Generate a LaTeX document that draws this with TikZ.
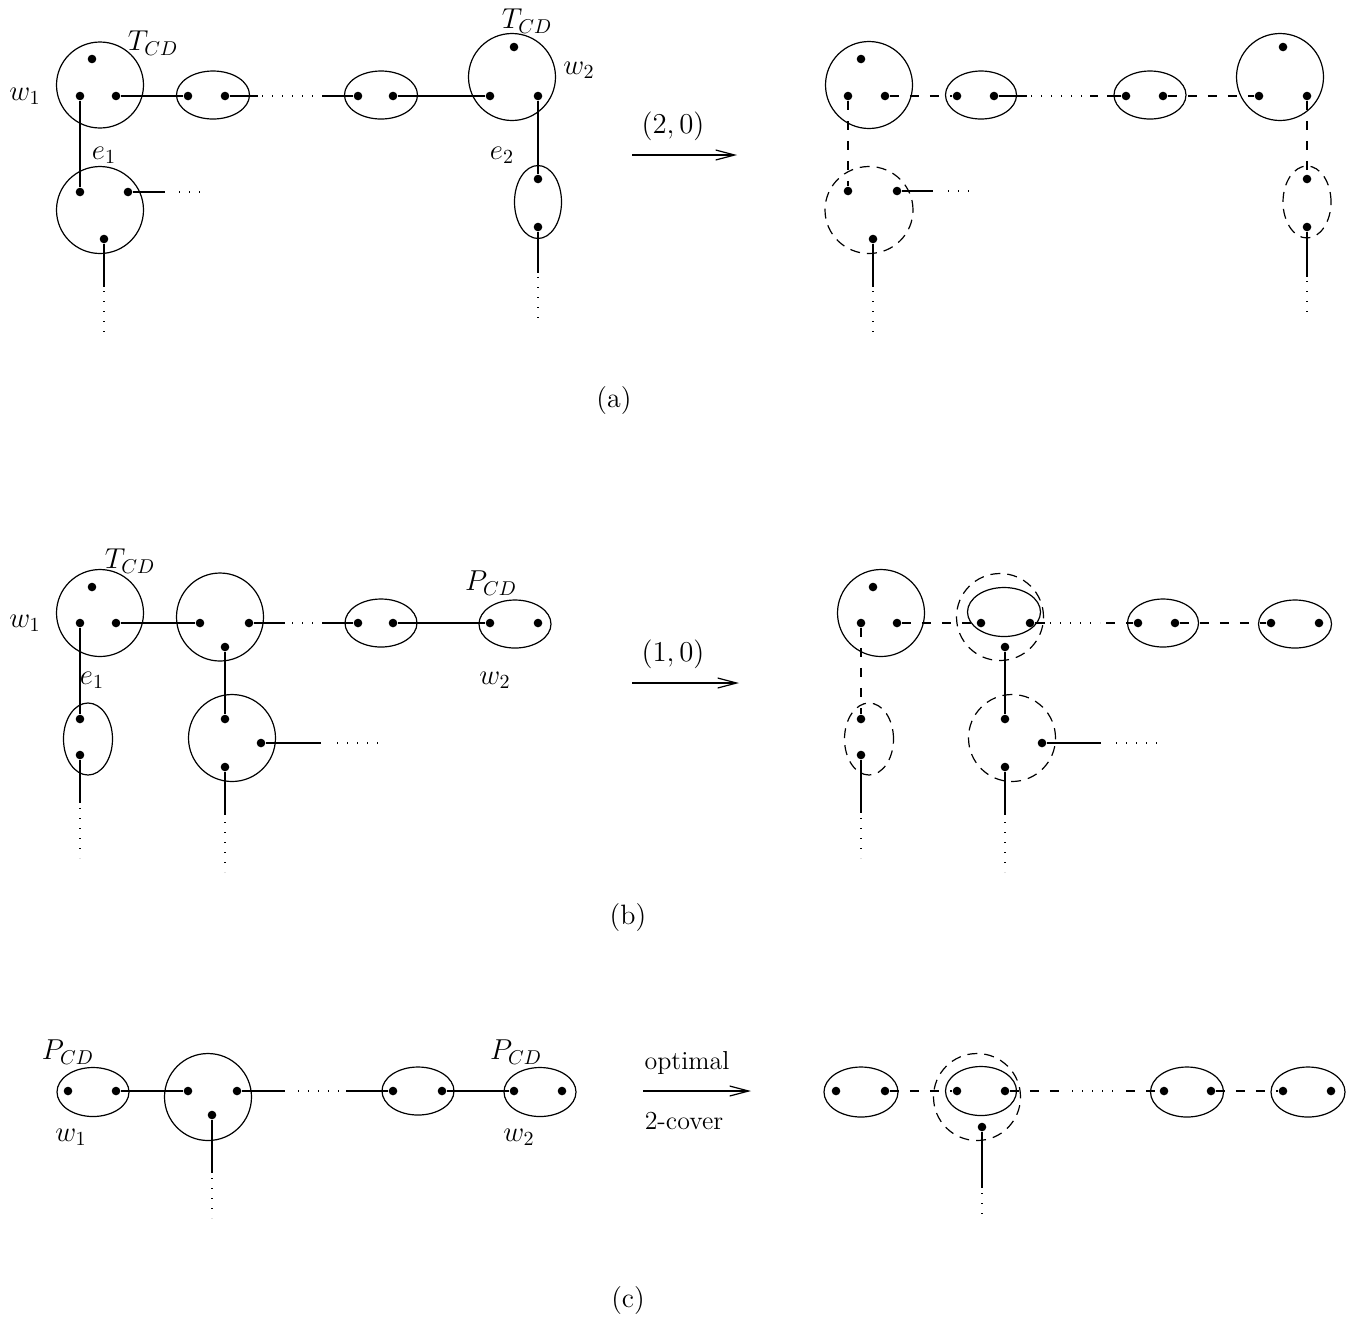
\documentclass[tikz,border=0pt]{standalone}
\usetikzlibrary{shapes.geometric,arrows.meta}
\begin{document}
\begin{tikzpicture}[x=0.5pt,y=-0.5pt,line width=0.6pt,
  dot/.style={circle,fill,inner sep=0pt,minimum size=4.3pt},
  blob/.style={draw,ellipse,inner sep=0pt},
  dblob/.style={blob,dash pattern=on 5pt off 3.5pt},
  dsh/.style={dash pattern=on 4.5pt off 5.5pt},
  dts/.style={dash pattern=on 0.7pt off 4.3pt},
  lbl/.style={font=\fontsize{14.4}{17}\selectfont,inner sep=0pt},
  captxt/.style={font=\fontsize{14}{17}\selectfont,inner sep=0pt},
  txt/.style={font=\fontsize{13}{15}\selectfont,inner sep=0pt},
  arr/.style={-{Straight Barb[length=9.5pt,width=5pt,line width=0.6pt]}}]
\useasboundingbox (0,0) rectangle (1348,1319);

% ================= (a) left =================
\node[blob,minimum width=43.5pt,minimum height=43pt] (A1) at (100,85) {};
\node[blob,minimum width=36.5pt,minimum height=24pt] (A2) at (213,95) {};
\node[blob,minimum width=36.5pt,minimum height=24pt] (A3) at (381,95) {};
\node[blob,minimum width=43.5pt,minimum height=43.5pt] (A4) at (512,77) {};
\node[blob,minimum width=43.5pt,minimum height=43.5pt] (A5) at (100,210) {};
\node[blob,minimum width=23.5pt,minimum height=36.5pt] (A6) at (538,202) {};
\node[dot] (a1t) at (92,59) {};
\node[dot] (a1l) at (80,96) {};
\node[dot] (a1r) at (116,96) {};
\node[dot] (a2l) at (188,96) {};
\node[dot] (a2r) at (225,96) {};
\node[dot] (a3l) at (358,96) {};
\node[dot] (a3r) at (393,96) {};
\node[dot] (a4t) at (514,47) {};
\node[dot] (a4l) at (490,96) {};
\node[dot] (a4r) at (538,96) {};
\node[dot] (a5l) at (80,192) {};
\node[dot] (a5r) at (128,192) {};
\node[dot] (a5b) at (104,239) {};
\node[dot] (a6t) at (538,179) {};
\node[dot] (a6b) at (538,227) {};
\coordinate (ka1) at (258,96); \coordinate (ka2) at (262,96);
\coordinate (ka3) at (318,96); \coordinate (ka4) at (322,96);
\coordinate (ka5) at (165,192); \coordinate (ka6) at (179,192); \coordinate (ka7) at (202,192);
\coordinate (ka8) at (104,287); \coordinate (ka9) at (104,291); \coordinate (ka10) at (104,332);
\coordinate (ka11) at (538,273); \coordinate (ka12) at (538,277); \coordinate (ka13) at (538,318);
\draw (a1r) -- (a2l);
\draw (a2r) -- (ka1);
\draw[dts] (ka2) -- (ka3);
\draw (ka4) -- (a3l);
\draw (a3r) -- (a4l);
\draw (a1l) -- (a5l);
\draw (a5r) -- (ka5);
\draw[dts] (ka6) -- (ka7);
\draw (a5b) -- (ka8);
\draw[dts] (ka9) -- (ka10);
\draw (a4r) -- (a6t);
\draw (a6b) -- (ka11);
\draw[dts] (ka12) -- (ka13);
\node[lbl] (la1) at (153,43) {$T_{CD}$};
\node[lbl] (la2) at (527,21) {$T_{CD}$};
\node[lbl] (la3) at (25,96) {$w_1$};
\node[lbl] (la4) at (579,70) {$w_2$};
\node[lbl] (la5) at (104,155) {$e_1$};
\node[lbl] (la6) at (502,155) {$e_2$};

% arrow (a)
\coordinate (arA1) at (632,155); \coordinate (arA2) at (737,155);
\draw[arr] (arA1) -- (arA2);
\node[captxt] (la7) at (673,126) {$(2,0)$};

% ================= (a) right =================
\node[blob,minimum width=43.5pt,minimum height=43.5pt] (R1) at (869,85) {};
\node[blob,minimum width=35.5pt,minimum height=24pt] (R2) at (981,95) {};
\node[blob,minimum width=36pt,minimum height=24pt] (R3) at (1150,95) {};
\node[blob,minimum width=43.5pt,minimum height=43.5pt] (R4) at (1280,77) {};
\node[dblob,minimum width=44pt,minimum height=43.5pt] (R5) at (869,210) {};
\node[dblob,minimum width=24pt,minimum height=36pt] (R6) at (1307,202) {};
\node[dot] (r1t) at (861,59) {};
\node[dot] (r1l) at (848,96) {};
\node[dot] (r1r) at (885,96) {};
\node[dot] (r2l) at (957,96) {};
\node[dot] (r2r) at (994,96) {};
\node[dot] (r3l) at (1126,96) {};
\node[dot] (r3r) at (1163,96) {};
\node[dot] (r4t) at (1283,47) {};
\node[dot] (r4l) at (1259,96) {};
\node[dot] (r4r) at (1307,96) {};
\node[dot] (r5l) at (848,191) {};
\node[dot] (r5r) at (897,191) {};
\node[dot] (r5b) at (873,239) {};
\node[dot] (r6t) at (1307,179) {};
\node[dot] (r6b) at (1307,227) {};
\coordinate (kr1) at (1027,96); \coordinate (kr2) at (1031,96);
\coordinate (kr3) at (1083,96); \coordinate (kr4) at (1090,96);
\coordinate (kr5) at (1098,96); \coordinate (kr6) at (1107,96);
\coordinate (kr7) at (933,191); \coordinate (kr8) at (948,191); \coordinate (kr9) at (970,191);
\coordinate (kr10) at (873,287); \coordinate (kr11) at (873,291); \coordinate (kr12) at (873,332);
\coordinate (kr13) at (1307,277); \coordinate (kr14) at (1307,281); \coordinate (kr15) at (1307,318);
\draw[dsh] (r1r) -- (r2l);
\draw (r2r) -- (kr1);
\draw[dts] (kr2) -- (kr3);
\draw (kr4) -- (kr5);
\draw (kr6) -- (r3l);
\draw[dsh] (r3r) -- (r4l);
\draw[dsh] (r1l) -- (r5l);
\draw (r5r) -- (kr7);
\draw[dts] (kr8) -- (kr9);
\draw (r5b) -- (kr10);
\draw[dts] (kr11) -- (kr12);
\draw[dsh] (r4r) -- (r6t);
\draw (r6b) -- (kr13);
\draw[dts] (kr14) -- (kr15);

\node[captxt] (capa) at (614,401) {(a)};

% ================= (b) left =================
\node[blob,minimum width=43.5pt,minimum height=43.5pt] (B1) at (100,613) {};
\node[blob,minimum width=43.5pt,minimum height=44pt] (B2) at (220,617) {};
\node[blob,minimum width=36pt,minimum height=24pt] (B3) at (381,623) {};
\node[blob,minimum width=36pt,minimum height=24pt] (B4) at (515,624) {};
\node[blob,minimum width=24.5pt,minimum height=36pt] (B5) at (88,739) {};
\node[blob,minimum width=43.5pt,minimum height=43.5pt] (B6) at (232,738) {};
\node[dot] (b1t) at (92,587) {};
\node[dot] (b1l) at (80,623) {};
\node[dot] (b1r) at (116,623) {};
\node[dot] (b2l) at (200,623) {};
\node[dot] (b2r) at (249,623) {};
\node[dot] (b2b) at (225,647) {};
\node[dot] (b3l) at (358,623) {};
\node[dot] (b3r) at (393,623) {};
\node[dot] (b4l) at (490,623) {};
\node[dot] (b4r) at (538,623) {};
\node[dot] (b5t) at (80,719) {};
\node[dot] (b5b) at (80,755) {};
\node[dot] (b6t) at (225,719) {};
\node[dot] (b6r) at (261,743) {};
\node[dot] (b6b) at (225,767) {};
\coordinate (kb1) at (285,623); \coordinate (kb2) at (292,623);
\coordinate (kb3) at (316,623); \coordinate (kb4) at (322,623);
\coordinate (kb5) at (80,803); \coordinate (kb6) at (80,808); \coordinate (kb7) at (80,858);
\coordinate (kb8) at (321,743); \coordinate (kb9) at (337,743); \coordinate (kb10) at (379,743);
\coordinate (kb11) at (225,815); \coordinate (kb12) at (225,822); \coordinate (kb13) at (225,872);
\draw (b1r) -- (b2l);
\draw (b2r) -- (kb1);
\draw[dts] (kb2) -- (kb3);
\draw (kb4) -- (b3l);
\draw (b3r) -- (b4l);
\draw (b1l) -- (b5t);
\draw (b5b) -- (kb5);
\draw[dts] (kb6) -- (kb7);
\draw (b2b) -- (b6t);
\draw (b6r) -- (kb8);
\draw[dts] (kb9) -- (kb10);
\draw (b6b) -- (kb11);
\draw[dts] (kb12) -- (kb13);
\node[lbl] (lb1) at (130,561) {$T_{CD}$};
\node[lbl] (lb2) at (25,623) {$w_1$};
\node[lbl] (lb3) at (491,583) {$P_{CD}$};
\node[lbl] (lb4) at (495,680) {$w_2$};
\node[lbl] (lb5) at (92,680) {$e_1$};

% arrow (b)
\coordinate (arB1) at (632,683); \coordinate (arB2) at (739,683);
\draw[arr] (arB1) -- (arB2);
\node[captxt] (lb6) at (673,654) {$(1,0)$};

% ================= (b) right =================
\node[blob,minimum width=43.5pt,minimum height=43.5pt] (Q1) at (881,613) {};
\node[blob,minimum width=36.5pt,minimum height=24.5pt] (Q2) at (1004,612) {};
\node[dblob,minimum width=43.5pt,minimum height=43.5pt] (Q2d) at (1000,617) {};
\node[blob,minimum width=35.5pt,minimum height=24pt] (Q3) at (1163,623) {};
\node[blob,minimum width=36.5pt,minimum height=24pt] (Q4) at (1295,624) {};
\node[dblob,minimum width=24.5pt,minimum height=36pt] (Q5) at (869,739) {};
\node[dblob,minimum width=43.5pt,minimum height=43.5pt] (Q6) at (1012,738) {};
\node[dot] (q1t) at (873,587) {};
\node[dot] (q1l) at (861,623) {};
\node[dot] (q1r) at (897,623) {};
\node[dot] (q2l) at (981,623) {};
\node[dot] (q2r) at (1030,623) {};
\node[dot] (q2b) at (1005,647) {};
\node[dot] (q3l) at (1138,623) {};
\node[dot] (q3r) at (1175,623) {};
\node[dot] (q4l) at (1271,623) {};
\node[dot] (q4r) at (1319,623) {};
\node[dot] (q5t) at (861,719) {};
\node[dot] (q5b) at (861,755) {};
\node[dot] (q6t) at (1005,719) {};
\node[dot] (q6r) at (1042,743) {};
\node[dot] (q6b) at (1005,767) {};
\coordinate (kq1) at (1045,623); \coordinate (kq2) at (1050,623);
\coordinate (kq3) at (1100,623); \coordinate (kq4) at (1106,623);
\coordinate (kq5) at (861,813); \coordinate (kq6) at (861,818); \coordinate (kq7) at (861,858);
\coordinate (kq8) at (1101,743); \coordinate (kq9) at (1116,743); \coordinate (kq10) at (1158,743);
\coordinate (kq11) at (1005,815); \coordinate (kq12) at (1005,822); \coordinate (kq13) at (1005,872);
\draw[dsh] (q1r) -- (q2l);
\draw (q2r) -- (kq1);
\draw[dts] (kq2) -- (kq3);
\draw[dsh] (kq4) -- (q3l);
\draw[dsh] (q3r) -- (q4l);
\draw[dsh] (q1l) -- (q5t);
\draw (q5b) -- (kq5);
\draw[dts] (kq6) -- (kq7);
\draw (q2b) -- (q6t);
\draw (q6r) -- (kq8);
\draw[dts] (kq9) -- (kq10);
\draw (q6b) -- (kq11);
\draw[dts] (kq12) -- (kq13);

\node[captxt] (capb) at (628,917) {(b)};

% ================= (c) left =================
\node[blob,minimum width=36pt,minimum height=24.5pt] (C1) at (93,1092) {};
\node[blob,minimum width=43.5pt,minimum height=43.5pt] (C2) at (208,1097) {};
\node[blob,minimum width=36pt,minimum height=24pt] (C3) at (418,1091) {};
\node[blob,minimum width=36pt,minimum height=24.5pt] (C4) at (540,1092) {};
\node[dot] (c1l) at (68,1091) {};
\node[dot] (c1r) at (116,1091) {};
\node[dot] (c2l) at (188,1091) {};
\node[dot] (c2r) at (237,1091) {};
\node[dot] (c2b) at (212,1115) {};
\node[dot] (c3l) at (393,1091) {};
\node[dot] (c3r) at (442,1091) {};
\node[dot] (c4l) at (514,1091) {};
\node[dot] (c4r) at (562,1091) {};
\coordinate (kc1) at (285,1091); \coordinate (kc2) at (298,1091);
\coordinate (kc3) at (340,1091); \coordinate (kc4) at (346,1091);
\coordinate (kc5) at (212,1173); \coordinate (kc6) at (212,1178); \coordinate (kc7) at (212,1218);
\draw (c1r) -- (c2l);
\draw (c2r) -- (kc1);
\draw[dts] (kc2) -- (kc3);
\draw (kc4) -- (c3l);
\draw (c3r) -- (c4l);
\draw (c2b) -- (kc5);
\draw[dts] (kc6) -- (kc7);
\node[lbl] (lc1) at (68,1052) {$P_{CD}$};
\node[lbl] (lc2) at (71,1137) {$w_1$};
\node[lbl] (lc3) at (516,1052) {$P_{CD}$};
\node[lbl] (lc4) at (519,1137) {$w_2$};

% arrow (c)
\coordinate (arC1) at (643,1091); \coordinate (arC2) at (751,1091);
\draw[arr] (arC1) -- (arC2);
\node[txt] (lc5) at (687,1063) {optimal};
\node[txt] (lc6) at (684,1121) {2-cover};

% ================= (c) right =================
\node[blob,minimum width=37pt,minimum height=25pt] (D1) at (861,1092) {};
\node[blob,minimum width=35.5pt,minimum height=24.5pt] (D2) at (981,1091) {};
\node[dblob,minimum width=43.5pt,minimum height=43.5pt] (D2d) at (977,1097) {};
\node[blob,minimum width=36.5pt,minimum height=25pt] (D3) at (1187,1092) {};
\node[blob,minimum width=37pt,minimum height=25pt] (D4) at (1308,1092) {};
\node[dot] (d1l) at (836,1091) {};
\node[dot] (d1r) at (885,1091) {};
\node[dot] (d2l) at (957,1091) {};
\node[dot] (d2r) at (1005,1091) {};
\node[dot] (d2b) at (982,1127) {};
\node[dot] (d3l) at (1164,1091) {};
\node[dot] (d3r) at (1211,1091) {};
\node[dot] (d4l) at (1283,1091) {};
\node[dot] (d4r) at (1331,1091) {};
\coordinate (kd1) at (1060,1091); \coordinate (kd2) at (1072,1091);
\coordinate (kd3) at (1120,1091); \coordinate (kd4) at (1126,1091);
\coordinate (kd5) at (982,1188); \coordinate (kd6) at (982,1193); \coordinate (kd7) at (982,1218);
\draw[dsh] (d1r) -- (d2l);
\draw[dsh] (d2r) -- (kd1);
\draw[dts] (kd2) -- (kd3);
\draw[dsh] (kd4) -- (d3l);
\draw[dsh] (d3r) -- (d4l);
\draw (d2b) -- (kd5);
\draw[dts] (kd6) -- (kd7);

\node[captxt] (capc) at (628,1300) {(c)};
\end{tikzpicture}
\end{document}
